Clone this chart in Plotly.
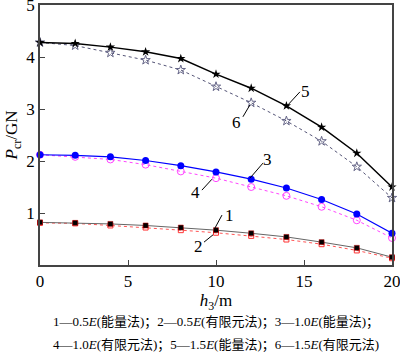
import plotly.graph_objects as go

h3 = [0, 2, 4, 6, 8, 10, 12, 14, 16, 18, 20]
s1 = [0.82, 0.81, 0.79, 0.76, 0.72, 0.67, 0.61, 0.54, 0.44, 0.33, 0.15]
s2 = [0.81, 0.80, 0.76, 0.72, 0.67, 0.62, 0.56, 0.49, 0.40, 0.28, 0.13]
s3 = [2.12, 2.11, 2.08, 2.01, 1.91, 1.79, 1.65, 1.48, 1.26, 0.98, 0.61]
s4 = [2.12, 2.08, 2.03, 1.93, 1.80, 1.67, 1.50, 1.33, 1.12, 0.86, 0.52]
s5 = [4.28, 4.26, 4.19, 4.10, 3.97, 3.67, 3.40, 3.06, 2.65, 2.15, 1.50]
s6 = [4.28, 4.22, 4.08, 3.94, 3.75, 3.43, 3.12, 2.77, 2.38, 1.89, 1.29]

labels = ["1", "2", "3", "4", "5", "6"]
label_xy = [(10.74, 0.96), (8.98, 0.35), (12.95, 2.02), (8.81, 1.40), (15.06, 3.33), (11.19, 2.75)]
leader = [((9.94, 0.71), (10.34, 0.96)), ((9.32, 0.44), (9.83, 0.58)),
          ((11.93, 1.67), (12.67, 1.96)), ((9.20, 1.44), (9.77, 1.65)),
          ((14.09, 3.08), (14.77, 3.33)), ((11.53, 2.85), (11.93, 3.08))]

SERIF = "Liberation Serif, Times New Roman, serif"
fig = go.Figure()

def add(y, lc, lw, dash, sym, mc, ms, mlc, mlw):
    fig.add_trace(go.Scatter(x=h3, y=y, mode="lines+markers", cliponaxis=False,
                             line=dict(color=lc, width=lw, dash=dash),
                             marker=dict(symbol=sym, color=mc, size=ms,
                                         line=dict(color=mlc, width=mlw)),
                             showlegend=False))

add(s2, "#ff5555", 1, "dot", "square-open", "#ff3333", 5, "#ff3333", 1)
add(s1, "#666666", 1, "solid", "square", "#000000", 5, "#c00000", 0.5)
add(s4, "#ff44ff", 1, "dot", "circle-open", "#ff44ff", 7, "#ff44ff", 1)
add(s3, "#0000ff", 1.2, "solid", "circle", "#0000ff", 7, "#0000ff", 0)
add(s6, "#555577", 1, "dot", "star-open", "#666688", 7, "#666688", 1)
add(s5, "#000000", 1.5, "solid", "star", "#000000", 7, "#000000", 0)

for t, (x, y), ((x0, y0), (x1, y1)) in zip(labels, label_xy, leader):
    fig.add_annotation(x=x, y=y, text=t, showarrow=False,
                       font=dict(family=SERIF, size=17, color="black"))
    fig.add_shape(type="line", x0=x0, y0=y0, x1=x1, y1=y1,
                  line=dict(color="black", width=1))

CAP = "Liberation Serif, Noto Sans CJK SC"
fig.add_annotation(xref="paper", yref="paper", x=0.5, y=-0.219, xanchor="center", yanchor="middle",
                   text="1—0.5<i>E</i>(能量法)；2—0.5<i>E</i>(有限元法)；3—1.0<i>E</i>(能量法)；",
                   showarrow=False, font=dict(family=CAP, size=13, color="black"))
fig.add_annotation(xref="paper", yref="paper", x=0.5, y=-0.308, xanchor="center", yanchor="middle",
                   text="4—1.0<i>E</i>(有限元法)；5—1.5<i>E</i>(能量法)；6—1.5<i>E</i>(有限元法)",
                   showarrow=False, font=dict(family=CAP, size=13, color="black"))

axis_common = dict(showline=True, linecolor="#444444", linewidth=1.5, mirror=True,
                   ticks="inside", ticklen=5, tickcolor="#444444", showgrid=False,
                   zeroline=False, automargin=False, ticklabeloverflow="allow",
                   tickfont=dict(family=SERIF, size=17, color="black"))
fig.update_xaxes(range=[0, 20], tickvals=[0, 5, 10, 15, 20], **axis_common,
                 title=dict(text="<i>h</i><sub>3</sub>/m", font=dict(family=SERIF, size=17, color="black"), standoff=0))
fig.update_yaxes(range=[0, 5], tickvals=[1, 2, 3, 4, 5], **axis_common,
                 title=dict(text="<i>P</i><sub>cr</sub>/GN", font=dict(family=SERIF, size=17, color="black"), standoff=4))

fig.update_layout(width=400, height=359, margin=dict(l=40, r=8, t=5, b=94, autoexpand=False),
                  plot_bgcolor="white", paper_bgcolor="white")
fig.write_html("out.html", config={"displayModeBar": False},
               post_script="document.body.style.margin='0';document.body.style.overflow='hidden';")
